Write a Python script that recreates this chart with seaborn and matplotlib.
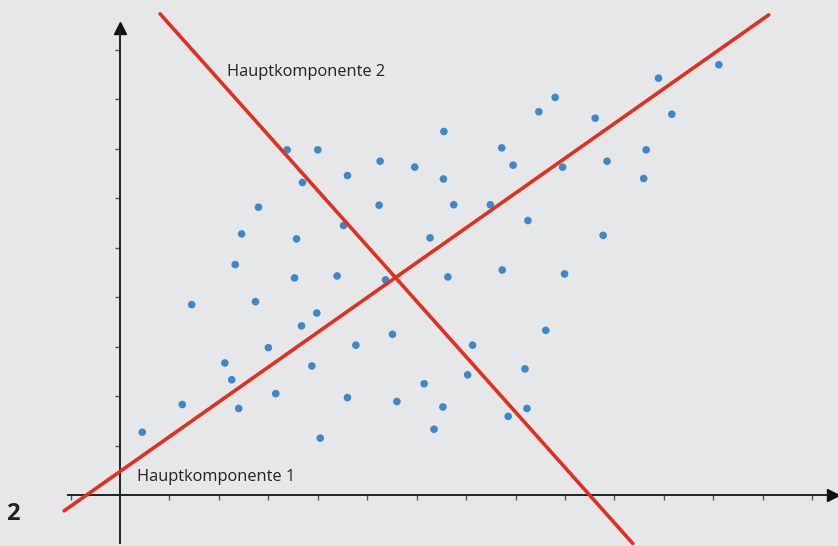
import numpy as np
import pandas as pd
import matplotlib
matplotlib.use("Agg")
import matplotlib.pyplot as plt
import seaborn as sns

# Streudaten (Achseneinheiten = Tick-Abstand)
x_vals = [0.45, 1.26, 1.45, 2.12, 2.26, 2.33, 2.40, 2.46, 2.74, 2.80, 3.00, 3.15,
          3.38, 3.53, 3.57, 3.67, 3.69, 3.88, 3.98, 4.00, 4.05, 4.39, 4.52, 4.60,
          4.60, 4.77, 5.26, 5.24, 5.37, 5.51, 5.60, 5.96, 6.15, 6.27, 6.35, 6.54,
          6.53, 6.55, 6.63, 6.75, 7.03, 7.13, 7.49, 7.72, 7.73, 7.85, 7.95, 8.19,
          8.25, 8.23, 8.47, 8.61, 8.80, 8.95, 8.99, 9.61, 9.77, 9.85, 10.59, 10.64,
          10.89, 11.16, 12.11]
y_vals = [1.27, 1.83, 3.85, 2.67, 2.33, 4.66, 1.75, 5.28, 3.91, 5.82, 2.98, 2.05,
          6.98, 4.39, 5.18, 3.42, 6.32, 2.61, 3.68, 6.98, 1.15, 4.43, 5.45, 6.46,
          1.97, 3.03, 6.75, 5.86, 4.35, 3.25, 1.89, 6.63, 2.25, 5.20, 1.33, 6.39,
          1.78, 7.35, 4.41, 5.87, 2.43, 3.03, 5.87, 7.02, 4.55, 1.59, 6.67, 2.55,
          5.55, 1.75, 7.75, 3.33, 8.04, 6.63, 4.47, 7.62, 5.25, 6.75, 6.40, 6.98,
          8.43, 7.70, 8.70]

# Hauptkomponenten (Endpunkte)
pc1_x = [-1.13, 13.12]
pc1_y = [-0.32, 9.71]
pc2_x = [0.81, 10.37]
pc2_y = [9.73, -0.98]

x_ticks = [-1, 1, 2, 3, 4, 5, 6, 7, 8, 9, 10, 11, 12, 13, 14]
y_ticks = [1, 2, 3, 4, 5, 6, 7, 8, 9]

bg = "#e6e7e9"
sns.set_style("white", {"axes.facecolor": bg, "figure.facecolor": bg})
plt.rcParams['font.family'] = ['Open Sans', 'DejaVu Sans']

fig = plt.figure(figsize=(8.38, 5.46), dpi=100)
ax = fig.add_axes([0, 0, 1, 1])

df = pd.DataFrame({"x": x_vals, "y": y_vals})
sns.scatterplot(data=df, x="x", y="y", ax=ax, color="#3d88c9", s=30,
                edgecolor="none", zorder=3)
sns.lineplot(x=pc1_x, y=pc1_y, ax=ax, color="#e2301f", lw=2.6,
             solid_capstyle="round", zorder=4)
sns.lineplot(x=pc2_x, y=pc2_y, ax=ax, color="#e2301f", lw=2.6,
             solid_capstyle="round", zorder=4)

ax.set_xlim(-2.427, 14.52)
ax.set_ylim(-1.031, 10.01)

# Achsen durch den Ursprung
for side in ["top", "right"]:
    ax.spines[side].set_visible(False)
ax.spines["left"].set_position(("data", 0))
ax.spines["bottom"].set_position(("data", 0))
ax.spines["left"].set_bounds(-0.97, 9.4)
ax.spines["bottom"].set_bounds(-1.05, 14.3)
for side in ["left", "bottom"]:
    ax.spines[side].set_color("#222222")
    ax.spines[side].set_linewidth(1.4)
    ax.spines[side].set_zorder(2)

ax.plot(0, 9.45, marker="^", color="#111111", ms=8, clip_on=False, zorder=2)
ax.plot(14.42, 0, marker=">", color="#111111", ms=8, clip_on=False, zorder=2)

ax.set_xticks(x_ticks)
ax.set_yticks(y_ticks)
ax.tick_params(axis="both", direction="out", length=3.5, width=1,
               color="#555555", bottom=True, left=True,
               labelbottom=False, labelleft=False)
ax.set_xlabel("")
ax.set_ylabel("")

ax.text(0.34, 0.37, "Hauptkomponente 1", fontsize=11.8, color="#222222",
        ha="left", va="center")
ax.text(2.16, 8.56, "Hauptkomponente 2", fontsize=11.8, color="#222222",
        ha="left", va="center")
ax.text(-2.17, -0.38, "2", fontsize=17, fontweight="bold", color="#222222",
        ha="center", va="center")

fig.savefig("out.png", dpi=100, facecolor=bg)
